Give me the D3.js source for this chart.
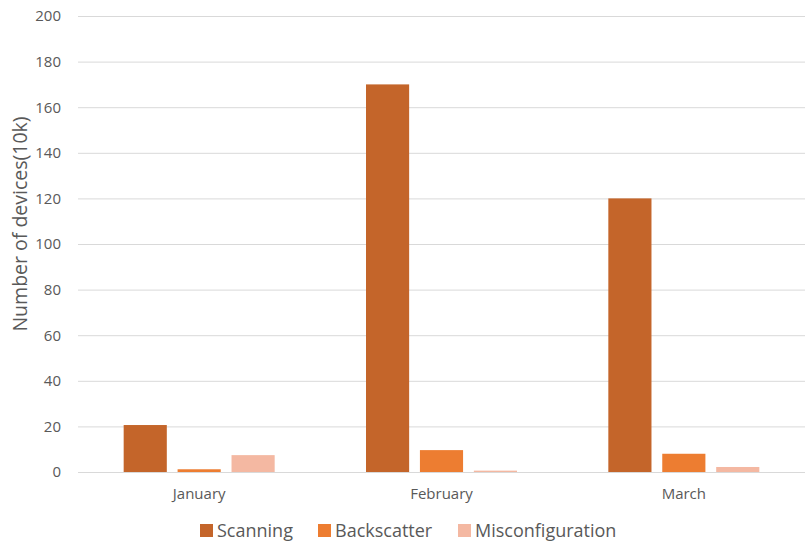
<!DOCTYPE html>
<html>
<head>
<meta charset="utf-8">
<script src="https://cdn.jsdelivr.net/npm/d3@7"></script>
<style>
  body { margin: 0; background: #fff; }
  text { font-family: "Open Sans", "Noto Sans", sans-serif; fill: #595959; }
</style>
</head>
<body>
<div id="chart"></div>
<script>
// categories and series
var months = ["January", "February", "March"];
var seriesNames = ["Scanning", "Backscatter", "Misconfiguration"];
var scanning = [20.6, 170, 120];
var backscatter = [1.2, 9.6, 8.0];
var misconfiguration = [7.4, 0.6, 2.2];
var yTicks = [0, 20, 40, 60, 80, 100, 120, 140, 160, 180, 200];
var colors = ["#C4652A", "#ED7D31", "#F4B8A2"];

var values = [scanning, backscatter, misconfiguration];

var width_all = 805, height_all = 544;
var margin = { top: 16, right: 0, bottom: 72, left: 78 },
    width = width_all - margin.left - margin.right,
    height = height_all - margin.top - margin.bottom;

var svg = d3.select("#chart")
    .append("svg")
    .attr("width", width_all)
    .attr("height", height_all)
    .append("g")
    .attr("transform", "translate(" + margin.left + "," + margin.top + ")");

// scales
var x0 = d3.scaleBand().domain(months).range([0, width]).padding(0);
var groupWidth = 151;
var x1 = d3.scaleBand().domain(seriesNames).range([0, groupWidth]).paddingInner(0.2).paddingOuter(0);
var y = d3.scaleLinear().domain([0, 200]).range([height, 0]);

// gridlines
svg.append("g")
    .selectAll("line")
    .data(yTicks)
    .enter()
    .append("line")
    .attr("x1", 0)
    .attr("x2", width)
    .attr("y1", function(d) { return y(d) + 0.5; })
    .attr("y2", function(d) { return y(d) + 0.5; })
    .attr("stroke", "#d9d9d9")
    .attr("stroke-width", 1);

// y axis labels
var yAxis = svg.append("g")
    .attr("transform", "translate(-17,0)")
    .call(d3.axisLeft(y).tickValues(yTicks).tickSize(0).tickPadding(0));
yAxis.select(".domain").remove();
yAxis.selectAll("text").attr("font-size", "15px").style("fill", "#595959");

// bars
var groups = svg.append("g")
    .selectAll("g")
    .data(months)
    .enter()
    .append("g")
    .attr("transform", function(d) {
        return "translate(" + (x0(d) + (x0.bandwidth() - groupWidth) / 2) + ",0)";
    });

groups.selectAll("rect")
    .data(function(m, i) {
        return seriesNames.map(function(s, j) { return { s: s, v: values[j][i], c: colors[j] }; });
    })
    .enter()
    .append("rect")
    .attr("x", function(d) { return x1(d.s); })
    .attr("y", function(d) { return y(d.v); })
    .attr("width", x1.bandwidth())
    .attr("height", function(d) { return height - y(d.v); })
    .attr("fill", function(d) { return d.c; });

// x axis labels
var xAxis = svg.append("g")
    .attr("transform", "translate(0," + height + ")")
    .call(d3.axisBottom(x0).tickSize(0).tickPadding(16));
xAxis.select(".domain").remove();
xAxis.selectAll("text").attr("font-size", "15px").style("fill", "#595959");

// y axis title
svg.append("text")
    .attr("transform", "rotate(-90)")
    .attr("x", -(224 - margin.top))
    .attr("y", -51)
    .attr("text-anchor", "middle")
    .attr("font-size", "19.5px")
    .text("Number of devices(10k)");

// legend
var legendX = [200, 318, 458];
var legend = d3.select("svg").append("g");
seriesNames.forEach(function(s, i) {
    legend.append("rect")
        .attr("x", legendX[i])
        .attr("y", 524)
        .attr("width", 13)
        .attr("height", 13)
        .attr("fill", colors[i]);
    legend.append("text")
        .attr("x", legendX[i] + 17)
        .attr("y", 537)
        .attr("font-size", "18px")
        .text(s);
});
</script>
</body>
</html>
